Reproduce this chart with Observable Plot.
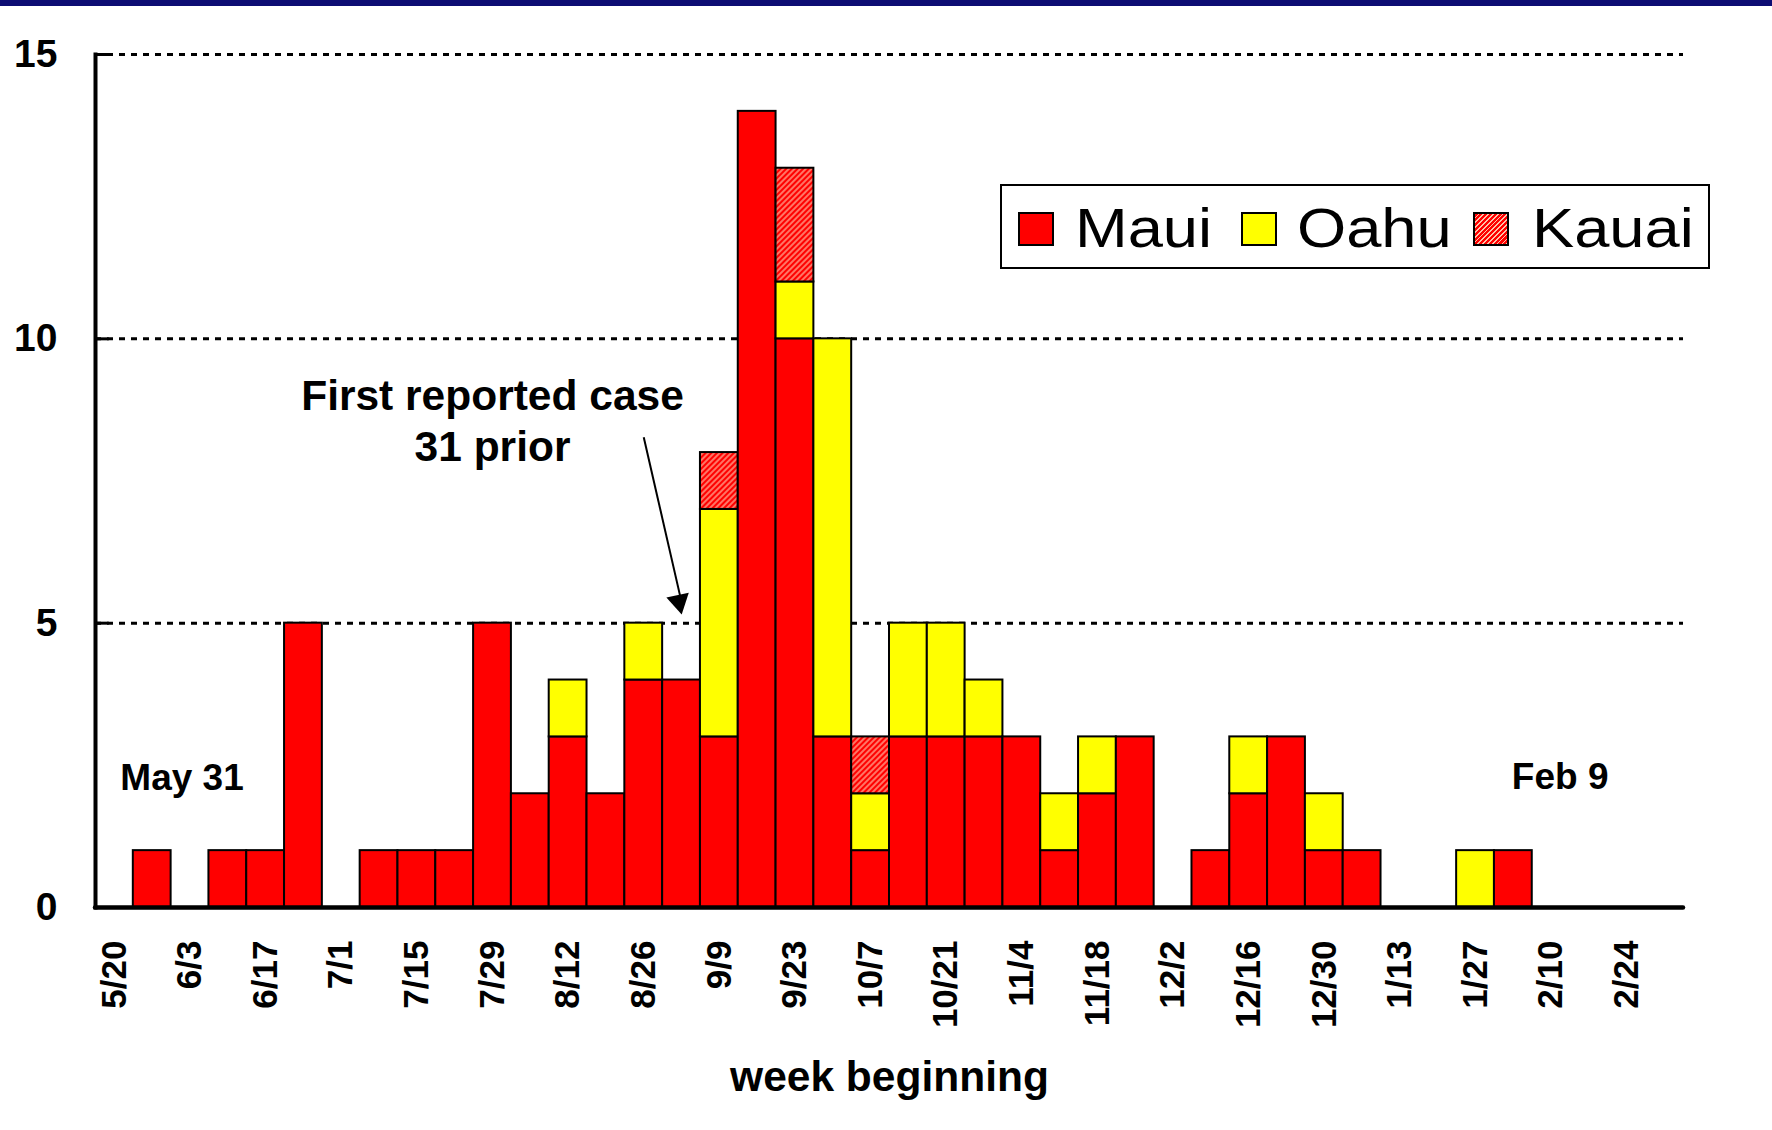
<!DOCTYPE html>
<html>
<head>
<meta charset="utf-8">
<script src="https://cdn.jsdelivr.net/npm/d3@7"></script>
<script src="https://cdn.jsdelivr.net/npm/@observablehq/plot@0.6"></script>
<style>
  html, body { margin: 0; padding: 0; background: #ffffff; }
  body { width: 1772px; height: 1130px; position: relative; overflow: hidden;
         font-family: Arial, "Liberation Sans", sans-serif; color: #000; }
  #topbar { position: absolute; left: 0; top: 0; width: 1772px; height: 6px; background: #0d0d73; }
  #chart { position: absolute; left: 0; top: 6px; }
  #legend { position: absolute; left: 1000px; top: 184px; width: 710px; height: 85px;
            box-sizing: border-box; border: 2px solid #000; background: #fff; }
  .sw { position: absolute; top: 26px; width: 36px; height: 34px; box-sizing: border-box; border: 2px solid #000; }
  .lt { position: absolute; top: 15px; font-size: 55px; line-height: 55px; font-weight: normal;
        transform: scaleX(1.15); transform-origin: left center; white-space: nowrap; }
  #xlabel { position: absolute; left: 95px; width: 1589px; top: 1056px; text-align: center;
            font-size: 42.5px; line-height: 42px; font-weight: bold; }
</style>
</head>
<body>
<div id="topbar"></div>
<div id="chart"></div>
<div id="legend"></div>
<div id="xlabel"></div>
<script>
// ---- data ----
const weeks = ["5/20","5/27","6/3","6/10","6/17","6/24","7/1","7/8","7/15","7/22","7/29","8/5","8/12","8/19",
  "8/26","9/2","9/9","9/16","9/23","9/30","10/7","10/14","10/21","10/28","11/4","11/11","11/18","11/25",
  "12/2","12/9","12/16","12/23","12/30","1/6","1/13","1/20","1/27","2/3","2/10","2/17","2/24","3/3"];
const maui  = [0,1,0,1,1,5,0,1,1,1,5,2,3,2,4,4,3,14,10,3,1,3,3,3,3,1,2,3,0,1,2,3,1,1,0,0,0,1,0,0,0,0];
const oahu  = [0,0,0,0,0,0,0,0,0,0,0,0,1,0,1,0,4,0,1,7,1,2,2,1,0,1,1,0,0,0,1,0,1,0,0,0,1,0,0,0,0,0];
const kauai = [0,0,0,0,0,0,0,0,0,0,0,0,0,0,0,0,1,0,2,0,1,0,0,0,0,0,0,0,0,0,0,0,0,0,0,0,0,0,0,0,0,0];
const islands = ["Maui", "Oahu", "Kauai"];
const islandFills = ["#ff0000", "#ffff00", "url(#kauaiHatch)"];
const tickWeeks = ["5/20","6/3","6/17","7/1","7/15","7/29","8/12","8/26","9/9","9/23","10/7","10/21",
  "11/4","11/18","12/2","12/16","12/30","1/13","1/27","2/10","2/24"];
const yTicks = [0, 5, 10, 15];
const gridValues = [5, 10, 15];
const xTitle = "week beginning";

// annotations (in data coordinates)
const noteText = ["First reported case\n31 prior"];
const noteWeek = ["7/29"];
const noteValue = [7.86];
const arrowFrom = ["8/26", 8.27];
const arrowTo = ["9/2", 5.17];
const cornerNotes = ["May 31", "Feb 9"];
const cornerWeeks = ["6/3", "2/10"];
const cornerValue = [2.07, 2.09];
const cornerShift = [-8, 9];

// ---- table ----
const series = [maui, oahu, kauai];
const rows = [];
weeks.forEach((w, i) => {
  islands.forEach((isl, k) => {
    const v = series[k][i];
    if (v > 0) rows.push({week: w, island: isl, value: v});
  });
});

const font = 'Arial, "Liberation Sans", sans-serif';

const svg = Plot.plot({
  width: 1772,
  height: 1124,
  marginTop: 48,
  marginBottom: 223,
  marginLeft: 95,
  marginRight: 89,
  x: {type: "band", domain: weeks, paddingInner: 0, paddingOuter: 0, label: null},
  y: {domain: [0, 15], label: null},
  color: {domain: islands, range: islandFills},
  style: {fontFamily: font, color: "#000", background: "#fff", overflow: "visible"},
  marks: [
    Plot.ruleY(gridValues, {stroke: "#000", strokeWidth: 3, strokeDasharray: "6,6"}),
    Plot.barY(rows, {x: "week", y: "value", fill: "island", order: islands,
                     stroke: "#000", strokeWidth: 2}),
    Plot.ruleY([0], {stroke: "#000", strokeWidth: 4.5, strokeLinecap: "round"}),
    Plot.frame({anchor: "left", stroke: "#000", strokeWidth: 4}),
    Plot.tickY(yTicks, {y: d => d, x: () => weeks[0], insetRight: 24, stroke: "#000", strokeWidth: 3}),
    Plot.axisY({ticks: yTicks, tickSize: 0, tickPadding: 38, fontSize: 39, fontWeight: "bold", label: null}),
    Plot.axisX({ticks: tickWeeks, tickSize: 0, tickPadding: 33, tickRotate: -90,
                fontSize: 35, fontWeight: "bold", label: null}),
    Plot.text(noteText, {x: noteWeek, y: noteValue, text: d => d, fontSize: 42.5, fontWeight: "bold",
                         lineAnchor: "bottom", lineHeight: 1.18, textAnchor: "middle"}),
    Plot.link([0], {x1: () => arrowFrom[0], y1: () => arrowFrom[1], x2: () => arrowTo[0],
                    y2: () => arrowTo[1] + 0.2, stroke: "#000", strokeWidth: 2}),
    Plot.dot([0], {x: () => arrowTo[0], y: () => arrowTo[1], symbol: "triangle", r: 8.5,
                   fill: "#000", stroke: "none", rotate: 168, dx: -2.6, dy: -12}),
    Plot.text([cornerNotes[0]], {x: [cornerWeeks[0]], y: [cornerValue[0]], text: d => d, fontSize: 37,
                            fontWeight: "bold", lineAnchor: "bottom", dx: cornerShift[0], textAnchor: "middle"}),
    Plot.text([cornerNotes[1]], {x: [cornerWeeks[1]], y: [cornerValue[1]], text: d => d, fontSize: 37,
                            fontWeight: "bold", lineAnchor: "bottom", dx: cornerShift[1], textAnchor: "middle"})
  ]
});

// hatch pattern for Kauai
const ns = "http://www.w3.org/2000/svg";
const defs = document.createElementNS(ns, "defs");
defs.innerHTML = '<pattern id="kauaiHatch" patternUnits="userSpaceOnUse" width="4" height="4" patternTransform="rotate(45)">' +
  '<rect width="4" height="4" fill="#ff0000"/>' +
  '<line x1="1" y1="0" x2="1" y2="4" stroke="#ffc2a8" stroke-width="1.2"/></pattern>';
svg.insertBefore(defs, svg.firstChild);
document.getElementById("chart").appendChild(svg);

// legend
const legend = document.getElementById("legend");
const legendSwatchX = [16, 239, 471];
const legendTextX = [73, 295, 530];
const swatchBg = ["#ff0000", "#ffff00",
  "repeating-linear-gradient(135deg, #ff0000 0px, #ff0000 2.2px, #ffc2a8 2.2px, #ffc2a8 3.4px)"];
islands.forEach((isl, k) => {
  const sw = document.createElement("div");
  sw.className = "sw";
  sw.style.left = legendSwatchX[k] + "px";
  sw.style.background = swatchBg[k];
  legend.appendChild(sw);
  const t = document.createElement("div");
  t.className = "lt";
  t.style.left = legendTextX[k] + "px";
  t.textContent = isl;
  legend.appendChild(t);
});
document.getElementById("xlabel").textContent = xTitle;
</script>
</body>
</html>
